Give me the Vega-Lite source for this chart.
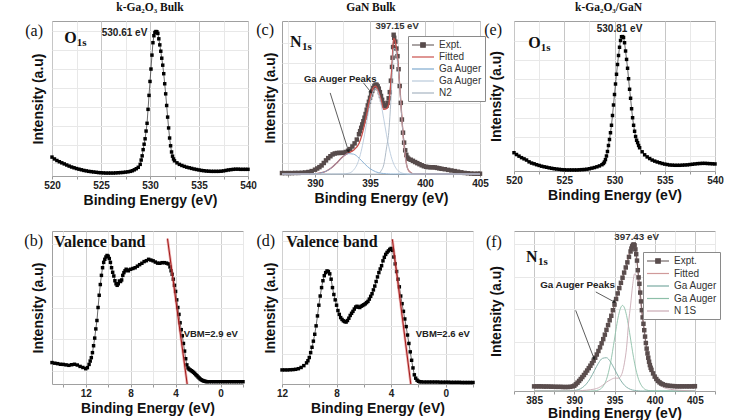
{
"$schema": "https://vega.github.io/schema/vega-lite/v6.json",
"padding": {"left": 23, "top": 1, "right": 4, "bottom": 2},
"columns": 3,
"spacing": {"row": 55, "column": 34},
"bounds": "flush",
"resolve": {"scale": {"color": "independent"}, "legend": {"color": "independent"}},
"config": {
 "view": {"stroke": "#a0a0a0", "strokeWidth": 1},
 "title": {"font": "Liberation Serif", "fontSize": 11.5, "fontWeight": "bold", "color": "#111", "anchor": "middle", "offset": 8},
 "axis": {"labelFont": "Liberation Sans", "labelFontSize": 10, "labelFontWeight": "bold", "labelColor": "#222", "titleFont": "Liberation Sans", "titleFontSize": 14, "titleFontWeight": "bold", "titleColor": "#111", "domain": false, "grid": true, "gridColor": "#e8e8e8", "gridWidth": 1, "tickColor": "#999", "tickSize": 3, "labelPadding": 1, "titlePadding": 3, "labelFlush": false, "labelOverlap": false},
 "axisY": {"labels": false, "ticks": false, "titlePadding": 7},
 "text": {"font": "Liberation Sans", "color": "#222"}
},
"datasets": {
 "ta": [{"s":"peak","t":"530.61 eV","e":527.4,"i":92.5},{"s":"big","t":"O","e":521.26,"i":85.8},{"s":"sub","t":"1s","e":521.26,"i":85.8},{"s":"lab","t":"(a)","e":519.08,"i":93.5}],
 "tc": [{"s":"peak","t":"397.15 eV","e":397.46,"i":96.7},{"s":"aug","t":"Ga Auger Peaks","e":392.29,"i":62.2},{"s":"big","t":"N","e":387.73,"i":83.2},{"s":"sub","t":"1s","e":387.73,"i":83.2},{"s":"lab","t":"(c)","e":386.27,"i":94.3}],
 "te": [{"s":"peak","t":"530.81 eV","e":530.5,"i":94.9},{"s":"big","t":"O","e":521.43,"i":81.8},{"s":"sub","t":"1s","e":521.43,"i":81.8},{"s":"lab","t":"(e)","e":518.81,"i":94}],
 "tb": [{"s":"vbm","t":"VBM=2.9 eV","e":3.28,"i":32.5},{"s":"vb","t":"Valence band","e":14.82,"i":89.7},{"s":"lab","t":"(b)","e":15.8,"i":93.5}],
 "td": [{"s":"vbm","t":"VBM=2.6 eV","e":2.2,"i":32.5},{"s":"vb","t":"Valence band","e":11.69,"i":89.5},{"s":"lab","t":"(d)","e":12.51,"i":93.5}],
 "tf": [{"s":"peak","t":"397.43 eV","e":397.75,"i":96.25},{"s":"aug","t":"Ga Auger Peaks","e":390.4,"i":66},{"s":"big","t":"N","e":384.0,"i":80.6},{"s":"sub","t":"1s","e":384.0,"i":80.6},{"s":"lab","t":"(f)","e":380.99,"i":93.1}],
 "bvbm": [{"e": 4.72, "i": 95}, {"e": 2.97, "i": 0}],
 "dvbm": [{"e": 3.91, "i": 94.6}, {"e": 2.56, "i": 0}],
 "carr": [{"a": 1, "p": 0, "e": 394.4, "i": 59.6}, {"a": 1, "p": 1, "e": 395.08, "i": 53.5}, {"a": 2, "p": 0, "e": 391.38, "i": 53}, {"a": 2, "p": 1, "e": 393.05, "i": 14.8}],
 "farr": [{"a": 1, "p": 0, "e": 392.67, "i": 61.9}, {"a": 1, "p": 1, "e": 395.0, "i": 55.6}, {"a": 2, "p": 0, "e": 390.17, "i": 50.4}, {"a": 2, "p": 1, "e": 392.46, "i": 20.2}],
 "a": [{"e":520.0,"i":12.2},{"e":520.25,"i":11.0},{"e":520.5,"i":10.0},{"e":520.75,"i":9.2},{"e":521.0,"i":8.5},{"e":521.25,"i":7.8},{"e":521.5,"i":7.1},{"e":521.75,"i":6.4},{"e":522.0,"i":5.8},{"e":522.25,"i":5.3},{"e":522.5,"i":4.8},{"e":522.75,"i":4.4},{"e":523.0,"i":4.0},{"e":523.25,"i":3.6},{"e":523.5,"i":3.3},{"e":523.75,"i":3.0},{"e":524.0,"i":2.8},{"e":524.25,"i":2.6},{"e":524.5,"i":2.4},{"e":524.75,"i":2.2},{"e":525.0,"i":2.1},{"e":525.25,"i":2.0},{"e":525.5,"i":1.9},{"e":525.75,"i":1.9},{"e":526.0,"i":1.9},{"e":526.25,"i":1.9},{"e":526.5,"i":2.0},{"e":526.75,"i":2.1},{"e":527.0,"i":2.2},{"e":527.25,"i":2.3},{"e":527.5,"i":2.5},{"e":527.75,"i":2.7},{"e":528.0,"i":3.0},{"e":528.2,"i":3.4},{"e":528.4,"i":4.0},{"e":528.6,"i":4.7},{"e":528.8,"i":5.6},{"e":529.0,"i":7.5},{"e":529.1,"i":10.3},{"e":529.2,"i":13.0},{"e":529.3,"i":17.0},{"e":529.4,"i":20.5},{"e":529.5,"i":24.0},{"e":529.6,"i":29.0},{"e":529.7,"i":34.0},{"e":529.8,"i":43.0},{"e":529.9,"i":52.0},{"e":530.0,"i":61.0},{"e":530.1,"i":69.0},{"e":530.2,"i":78.0},{"e":530.3,"i":86.0},{"e":530.4,"i":90.5},{"e":530.5,"i":92.6},{"e":530.6,"i":93.2},{"e":530.7,"i":93.1},{"e":530.8,"i":92.0},{"e":530.9,"i":88.5},{"e":531.0,"i":84.6},{"e":531.1,"i":80.5},{"e":531.2,"i":76.0},{"e":531.3,"i":71.5},{"e":531.4,"i":66.0},{"e":531.5,"i":59.5},{"e":531.6,"i":53.0},{"e":531.7,"i":45.5},{"e":531.8,"i":38.0},{"e":531.9,"i":31.0},{"e":532.0,"i":24.5},{"e":532.1,"i":19.5},{"e":532.2,"i":15.5},{"e":532.3,"i":12.8},{"e":532.4,"i":11.0},{"e":532.5,"i":9.8},{"e":532.75,"i":8.5},{"e":533.0,"i":7.5},{"e":533.25,"i":6.8},{"e":533.5,"i":6.2},{"e":533.75,"i":5.7},{"e":534.0,"i":5.3},{"e":534.25,"i":4.9},{"e":534.5,"i":4.5},{"e":534.75,"i":4.2},{"e":535.0,"i":3.9},{"e":535.25,"i":3.6},{"e":535.5,"i":3.4},{"e":535.75,"i":3.2},{"e":536.0,"i":3.1},{"e":536.25,"i":3.0},{"e":536.5,"i":3.0},{"e":536.75,"i":3.0},{"e":537.0,"i":3.0},{"e":537.25,"i":3.1},{"e":537.5,"i":3.3},{"e":537.75,"i":3.6},{"e":538.0,"i":3.9},{"e":538.25,"i":4.1},{"e":538.5,"i":4.3},{"e":538.75,"i":4.4},{"e":539.0,"i":4.4},{"e":539.25,"i":4.3},{"e":539.5,"i":4.3},{"e":539.75,"i":4.3},{"e":540.0,"i":4.3}],
 "e": [{"e":520.0,"i":12.2},{"e":520.25,"i":11.0},{"e":520.5,"i":9.9},{"e":520.75,"i":8.9},{"e":521.0,"i":8.1},{"e":521.25,"i":7.3},{"e":521.5,"i":6.1},{"e":521.75,"i":5.3},{"e":522.0,"i":4.8},{"e":522.25,"i":4.2},{"e":522.5,"i":3.7},{"e":522.75,"i":3.2},{"e":523.0,"i":2.8},{"e":523.25,"i":2.5},{"e":523.5,"i":2.1},{"e":523.75,"i":1.8},{"e":524.0,"i":1.5},{"e":524.25,"i":1.3},{"e":524.5,"i":1.1},{"e":524.75,"i":0.9},{"e":525.0,"i":0.8},{"e":525.25,"i":0.7},{"e":525.5,"i":0.7},{"e":525.75,"i":0.7},{"e":526.0,"i":0.7},{"e":526.25,"i":0.7},{"e":526.5,"i":0.8},{"e":526.75,"i":0.9},{"e":527.0,"i":1.0},{"e":527.25,"i":1.2},{"e":527.5,"i":1.5},{"e":527.75,"i":1.9},{"e":528.0,"i":2.3},{"e":528.25,"i":2.8},{"e":528.5,"i":3.4},{"e":528.75,"i":4.2},{"e":528.9,"i":5.0},{"e":529.0,"i":6.0},{"e":529.1,"i":7.6},{"e":529.2,"i":10.0},{"e":529.3,"i":13.0},{"e":529.4,"i":17.0},{"e":529.5,"i":21.0},{"e":529.6,"i":25.5},{"e":529.7,"i":30.5},{"e":529.8,"i":37.0},{"e":529.9,"i":44.0},{"e":530.0,"i":51.0},{"e":530.1,"i":58.0},{"e":530.2,"i":64.5},{"e":530.3,"i":71.0},{"e":530.4,"i":77.0},{"e":530.5,"i":82.5},{"e":530.6,"i":87.0},{"e":530.7,"i":89.5},{"e":530.8,"i":89.6},{"e":530.9,"i":89.0},{"e":531.0,"i":85.5},{"e":531.1,"i":80.0},{"e":531.2,"i":74.4},{"e":531.3,"i":68.5},{"e":531.4,"i":61.5},{"e":531.5,"i":54.5},{"e":531.6,"i":48.5},{"e":531.7,"i":41.5},{"e":531.8,"i":35.5},{"e":531.9,"i":30.5},{"e":532.0,"i":26.5},{"e":532.1,"i":23.0},{"e":532.2,"i":20.5},{"e":532.3,"i":18.9},{"e":532.4,"i":17.0},{"e":532.5,"i":15.5},{"e":532.75,"i":12.8},{"e":533.0,"i":10.8},{"e":533.25,"i":9.4},{"e":533.5,"i":8.3},{"e":533.75,"i":7.3},{"e":534.0,"i":6.6},{"e":534.25,"i":6.0},{"e":534.5,"i":5.5},{"e":534.75,"i":5.0},{"e":535.0,"i":4.6},{"e":535.25,"i":4.3},{"e":535.5,"i":4.0},{"e":535.75,"i":3.9},{"e":536.0,"i":3.8},{"e":536.25,"i":3.8},{"e":536.5,"i":3.8},{"e":536.75,"i":3.9},{"e":537.0,"i":4.0},{"e":537.25,"i":4.1},{"e":537.5,"i":4.3},{"e":537.75,"i":4.5},{"e":538.0,"i":4.7},{"e":538.25,"i":4.9},{"e":538.5,"i":5.0},{"e":538.75,"i":5.1},{"e":539.0,"i":5.1},{"e":539.25,"i":5.0},{"e":539.5,"i":4.9},{"e":539.75,"i":4.8},{"e":540.0,"i":4.7}],
 "b": [{"e":15.0,"i":14.0},{"e":14.75,"i":13.6},{"e":14.5,"i":13.3},{"e":14.25,"i":12.9},{"e":14.0,"i":12.8},{"e":13.75,"i":12.5},{"e":13.5,"i":12.2},{"e":13.25,"i":12.6},{"e":13.0,"i":12.9},{"e":12.75,"i":12.4},{"e":12.5,"i":11.5},{"e":12.25,"i":10.8},{"e":12.0,"i":10.0},{"e":11.85,"i":10.7},{"e":11.7,"i":12.8},{"e":11.6,"i":15.0},{"e":11.5,"i":17.2},{"e":11.4,"i":20.5},{"e":11.3,"i":25.0},{"e":11.2,"i":30.0},{"e":11.1,"i":36.0},{"e":11.0,"i":41.5},{"e":10.9,"i":50.0},{"e":10.8,"i":58.0},{"e":10.7,"i":65.0},{"e":10.6,"i":71.0},{"e":10.5,"i":76.0},{"e":10.4,"i":79.5},{"e":10.3,"i":81.5},{"e":10.2,"i":83.0},{"e":10.1,"i":84.0},{"e":10.0,"i":83.5},{"e":9.9,"i":82.0},{"e":9.8,"i":79.5},{"e":9.7,"i":76.0},{"e":9.6,"i":73.0},{"e":9.5,"i":70.6},{"e":9.4,"i":67.5},{"e":9.3,"i":65.5},{"e":9.2,"i":64.5},{"e":9.1,"i":65.5},{"e":9.0,"i":67.3},{"e":8.9,"i":67.0},{"e":8.8,"i":68.0},{"e":8.7,"i":71.0},{"e":8.6,"i":72.8},{"e":8.5,"i":74.0},{"e":8.4,"i":75.0},{"e":8.3,"i":74.5},{"e":8.2,"i":74.0},{"e":8.0,"i":75.0},{"e":7.8,"i":75.5},{"e":7.6,"i":76.0},{"e":7.4,"i":77.0},{"e":7.2,"i":78.0},{"e":7.0,"i":78.9},{"e":6.8,"i":80.0},{"e":6.6,"i":80.6},{"e":6.4,"i":81.5},{"e":6.2,"i":81.0},{"e":6.0,"i":80.5},{"e":5.8,"i":79.7},{"e":5.6,"i":79.0},{"e":5.4,"i":78.9},{"e":5.2,"i":79.3},{"e":5.0,"i":79.3},{"e":4.8,"i":79.0},{"e":4.65,"i":78.5},{"e":4.5,"i":76.5},{"e":4.4,"i":74.0},{"e":4.3,"i":71.7},{"e":4.2,"i":68.5},{"e":4.1,"i":64.5},{"e":4.0,"i":60.5},{"e":3.9,"i":55.0},{"e":3.8,"i":50.0},{"e":3.7,"i":45.5},{"e":3.6,"i":40.0},{"e":3.5,"i":35.5},{"e":3.4,"i":31.5},{"e":3.3,"i":26.5},{"e":3.2,"i":21.5},{"e":3.1,"i":16.5},{"e":3.0,"i":12.5},{"e":2.9,"i":10.5},{"e":2.8,"i":9.7},{"e":2.7,"i":9.2},{"e":2.6,"i":8.7},{"e":2.5,"i":8.2},{"e":2.4,"i":7.6},{"e":2.3,"i":6.9},{"e":2.2,"i":6.1},{"e":2.1,"i":5.4},{"e":2.0,"i":4.6},{"e":1.9,"i":3.9},{"e":1.8,"i":3.2},{"e":1.7,"i":2.7},{"e":1.6,"i":2.3},{"e":1.5,"i":2.0},{"e":1.4,"i":1.8},{"e":1.3,"i":1.6},{"e":1.2,"i":1.5},{"e":1.0,"i":1.5},{"e":0.8,"i":1.5},{"e":0.6,"i":1.5},{"e":0.4,"i":1.5},{"e":0.2,"i":1.5},{"e":0.0,"i":1.5},{"e":-0.2,"i":1.5},{"e":-0.4,"i":1.5},{"e":-0.6,"i":1.5},{"e":-0.8,"i":1.5},{"e":-1.0,"i":1.5},{"e":-1.2,"i":1.5},{"e":-1.4,"i":1.5},{"e":-1.6,"i":1.5},{"e":-1.8,"i":1.5},{"e":-2.0,"i":1.5}],
 "d": [{"e":12.0,"i":9.2},{"e":11.8,"i":9.2},{"e":11.6,"i":9.2},{"e":11.4,"i":9.3},{"e":11.2,"i":9.4},{"e":11.0,"i":9.6},{"e":10.8,"i":10.0},{"e":10.6,"i":10.8},{"e":10.4,"i":12.0},{"e":10.2,"i":13.8},{"e":10.1,"i":15.2},{"e":10.0,"i":17.3},{"e":9.9,"i":20.5},{"e":9.8,"i":24.0},{"e":9.7,"i":28.0},{"e":9.6,"i":32.5},{"e":9.5,"i":38.0},{"e":9.4,"i":44.5},{"e":9.3,"i":51.5},{"e":9.2,"i":57.5},{"e":9.1,"i":63.0},{"e":9.0,"i":67.5},{"e":8.9,"i":70.8},{"e":8.8,"i":72.8},{"e":8.7,"i":73.9},{"e":8.6,"i":73.5},{"e":8.5,"i":72.0},{"e":8.4,"i":68.5},{"e":8.3,"i":63.0},{"e":8.2,"i":58.5},{"e":8.1,"i":55.0},{"e":8.0,"i":51.5},{"e":7.9,"i":48.0},{"e":7.8,"i":45.5},{"e":7.7,"i":43.4},{"e":7.6,"i":42.2},{"e":7.5,"i":41.3},{"e":7.4,"i":40.8},{"e":7.3,"i":40.5},{"e":7.2,"i":41.5},{"e":7.1,"i":43.0},{"e":7.0,"i":44.8},{"e":6.9,"i":46.2},{"e":6.8,"i":47.5},{"e":6.7,"i":49.0},{"e":6.6,"i":50.3},{"e":6.5,"i":50.8},{"e":6.4,"i":50.2},{"e":6.3,"i":50.0},{"e":6.2,"i":50.8},{"e":6.1,"i":51.3},{"e":6.0,"i":51.8},{"e":5.9,"i":52.4},{"e":5.8,"i":53.2},{"e":5.7,"i":54.0},{"e":5.6,"i":55.5},{"e":5.5,"i":57.3},{"e":5.4,"i":59.0},{"e":5.3,"i":61.5},{"e":5.2,"i":64.0},{"e":5.1,"i":67.0},{"e":5.0,"i":70.0},{"e":4.9,"i":72.8},{"e":4.8,"i":75.2},{"e":4.7,"i":77.3},{"e":4.6,"i":80.5},{"e":4.5,"i":82.8},{"e":4.4,"i":84.7},{"e":4.3,"i":86.0},{"e":4.2,"i":87.0},{"e":4.1,"i":88.0},{"e":4.0,"i":88.6},{"e":3.9,"i":87.4},{"e":3.8,"i":83.0},{"e":3.7,"i":78.5},{"e":3.6,"i":73.5},{"e":3.5,"i":68.5},{"e":3.4,"i":63.5},{"e":3.3,"i":57.5},{"e":3.2,"i":52.5},{"e":3.1,"i":47.5},{"e":3.0,"i":42.5},{"e":2.9,"i":37.5},{"e":2.8,"i":32.0},{"e":2.7,"i":26.5},{"e":2.6,"i":21.0},{"e":2.5,"i":15.5},{"e":2.4,"i":10.5},{"e":2.3,"i":6.0},{"e":2.2,"i":3.8},{"e":2.1,"i":2.5},{"e":2.0,"i":1.8},{"e":1.9,"i":1.5},{"e":1.8,"i":1.4},{"e":1.6,"i":1.3},{"e":1.4,"i":1.3},{"e":1.2,"i":1.3},{"e":1.0,"i":1.3},{"e":0.8,"i":1.3},{"e":0.6,"i":1.3},{"e":0.4,"i":1.2},{"e":0.2,"i":1.2},{"e":0.0,"i":1.2},{"e":-0.2,"i":1.2},{"e":-0.4,"i":1.1},{"e":-0.6,"i":1.1},{"e":-0.8,"i":1.1},{"e":-1.0,"i":1.1},{"e":-1.2,"i":1.0},{"e":-1.4,"i":1.0},{"e":-1.6,"i":1.0},{"e":-1.8,"i":1.0},{"e":-2.0,"i":1.0}],
 "c": [{"e":387.0,"i":0.6},{"e":387.3,"i":0.6},{"e":387.6,"i":0.6},{"e":387.9,"i":0.6},{"e":388.2,"i":0.7},{"e":388.5,"i":0.7},{"e":388.8,"i":0.8},{"e":389.1,"i":1.0},{"e":389.4,"i":1.3},{"e":389.7,"i":1.9},{"e":390.0,"i":2.8},{"e":390.2,"i":3.6},{"e":390.4,"i":4.5},{"e":390.6,"i":5.6},{"e":390.8,"i":7.2},{"e":391.0,"i":8.9},{"e":391.2,"i":10.4},{"e":391.4,"i":11.6},{"e":391.6,"i":12.8},{"e":391.8,"i":13.4},{"e":392.0,"i":13.7},{"e":392.2,"i":13.8},{"e":392.4,"i":13.8},{"e":392.6,"i":13.9},{"e":392.8,"i":14.4},{"e":393.0,"i":15.2},{"e":393.2,"i":16.3},{"e":393.4,"i":18.0},{"e":393.6,"i":20.0},{"e":393.8,"i":22.5},{"e":394.0,"i":26.0},{"e":394.1,"i":28.0},{"e":394.2,"i":30.2},{"e":394.3,"i":32.4},{"e":394.4,"i":34.5},{"e":394.5,"i":36.8},{"e":394.6,"i":39.2},{"e":394.7,"i":42.0},{"e":394.8,"i":44.8},{"e":394.9,"i":47.2},{"e":395.0,"i":49.8},{"e":395.1,"i":52.0},{"e":395.2,"i":54.3},{"e":395.3,"i":56.2},{"e":395.4,"i":57.6},{"e":395.5,"i":58.4},{"e":395.6,"i":58.3},{"e":395.7,"i":57.3},{"e":395.8,"i":55.8},{"e":395.9,"i":53.5},{"e":396.0,"i":51.0},{"e":396.1,"i":48.5},{"e":396.2,"i":46.2},{"e":396.3,"i":44.8},{"e":396.4,"i":44.2},{"e":396.5,"i":44.6},{"e":396.6,"i":46.5},{"e":396.7,"i":49.5},{"e":396.8,"i":53.5},{"e":396.9,"i":61.0},{"e":397.0,"i":70.0},{"e":397.05,"i":76.0},{"e":397.1,"i":83.0},{"e":397.15,"i":91.0},{"e":397.2,"i":89.0},{"e":397.3,"i":86.5},{"e":397.4,"i":82.0},{"e":397.5,"i":77.0},{"e":397.6,"i":68.5},{"e":397.7,"i":57.5},{"e":397.8,"i":46.5},{"e":397.9,"i":35.6},{"e":398.0,"i":27.0},{"e":398.1,"i":20.5},{"e":398.2,"i":15.5},{"e":398.3,"i":12.5},{"e":398.4,"i":10.7},{"e":398.5,"i":9.9},{"e":398.7,"i":9.3},{"e":398.9,"i":8.6},{"e":399.1,"i":7.8},{"e":399.3,"i":7.1},{"e":399.5,"i":6.4},{"e":399.7,"i":5.7},{"e":399.9,"i":5.1},{"e":400.1,"i":4.7},{"e":400.3,"i":4.5},{"e":400.5,"i":4.4},{"e":400.7,"i":4.4},{"e":400.9,"i":4.3},{"e":401.1,"i":4.0},{"e":401.3,"i":3.7},{"e":401.5,"i":3.4},{"e":401.8,"i":3.1},{"e":402.1,"i":2.7},{"e":402.4,"i":2.3},{"e":402.7,"i":1.9},{"e":403.0,"i":1.5},{"e":403.3,"i":1.1},{"e":403.6,"i":0.7},{"e":403.9,"i":0.5},{"e":404.2,"i":0.3},{"e":404.5,"i":0.2},{"e":404.8,"i":0.2},{"e":405.0,"i":0.2}],
 "cfit": [{"e":387,"F":0,"G1":0,"G2":0,"N":0},{"e":389,"F":0,"G1":0,"G2":0,"N":0},{"e":389.5,"F":0.05,"G1":0.05,"G2":0,"N":0},{"e":390,"F":0.2,"G1":0.2,"G2":0,"N":0},{"e":390.5,"F":0.7,"G1":0.7,"G2":0,"N":0},{"e":391,"F":1.8,"G1":1.8,"G2":0,"N":0},{"e":391.5,"F":4.1,"G1":4.1,"G2":0,"N":0},{"e":392,"F":7.4,"G1":7.4,"G2":0,"N":0},{"e":392.5,"F":11.05,"G1":11,"G2":0.05,"N":0},{"e":393,"F":13.7,"G1":13.3,"G2":0.4,"N":0},{"e":393.5,"F":15.5,"G1":13,"G2":2.5,"N":0},{"e":394,"F":20,"G1":10.4,"G2":9.6,"N":0},{"e":394.25,"F":25.1,"G1":8.6,"G2":16.5,"N":0},{"e":394.5,"F":32.3,"G1":6.7,"G2":25.6,"N":0},{"e":394.75,"F":41,"G1":5,"G2":36,"N":0},{"e":395,"F":49.5,"G1":3.5,"G2":46,"N":0},{"e":395.25,"F":55.7,"G1":2.4,"G2":53.3,"N":0},{"e":395.5,"F":57.5,"G1":1.5,"G2":56,"N":0},{"e":395.75,"F":54.2,"G1":0.9,"G2":53.3,"N":0},{"e":396,"F":48.5,"G1":0.5,"G2":46,"N":2},{"e":396.25,"F":42.3,"G1":0.3,"G2":36,"N":6},{"e":396.5,"F":42.75,"G1":0.15,"G2":25.6,"N":17},{"e":396.7,"F":45.3,"G1":0.1,"G2":18.2,"N":27},{"e":396.85,"F":55.5,"G1":0,"G2":13.5,"N":42},{"e":397,"F":71.6,"G1":0,"G2":9.6,"N":62},{"e":397.15,"F":88.7,"G1":0,"G2":6.7,"N":82},{"e":397.3,"F":86.5,"G1":0,"G2":4.5,"N":82},{"e":397.45,"F":78.9,"G1":0,"G2":2.9,"N":76},{"e":397.6,"F":67.8,"G1":0,"G2":1.8,"N":66},{"e":397.75,"F":53.1,"G1":0,"G2":1.1,"N":52},{"e":397.9,"F":36.6,"G1":0,"G2":0.6,"N":36},{"e":398,"F":26.4,"G1":0,"G2":0.4,"N":26},{"e":398.1,"F":18.3,"G1":0,"G2":0.3,"N":18},{"e":398.25,"F":9.2,"G1":0,"G2":0.2,"N":9},{"e":398.4,"F":4,"G1":0,"G2":0,"N":4},{"e":398.6,"F":1.5,"G1":0,"G2":0,"N":1.5},{"e":398.8,"F":0.5,"G1":0,"G2":0,"N":0.5},{"e":399,"F":0,"G1":0,"G2":0,"N":0},{"e":402,"F":0,"G1":0,"G2":0,"N":0},{"e":405,"F":0,"G1":0,"G2":0,"N":0}],
 "f": [{"e":385.0,"i":2.9},{"e":385.3,"i":2.9},{"e":385.6,"i":2.9},{"e":385.9,"i":2.9},{"e":386.2,"i":2.8},{"e":386.5,"i":2.8},{"e":386.8,"i":2.8},{"e":387.1,"i":2.7},{"e":387.4,"i":2.7},{"e":387.7,"i":2.6},{"e":388.0,"i":2.6},{"e":388.3,"i":2.6},{"e":388.6,"i":2.5},{"e":388.9,"i":2.5},{"e":389.2,"i":2.5},{"e":389.5,"i":2.6},{"e":389.8,"i":2.9},{"e":390.0,"i":3.3},{"e":390.2,"i":4.2},{"e":390.4,"i":5.2},{"e":390.6,"i":6.3},{"e":390.8,"i":7.5},{"e":391.0,"i":8.7},{"e":391.2,"i":10.0},{"e":391.4,"i":11.4},{"e":391.6,"i":12.8},{"e":391.8,"i":14.3},{"e":392.0,"i":15.8},{"e":392.2,"i":17.4},{"e":392.4,"i":19.0},{"e":392.6,"i":20.8},{"e":392.8,"i":22.8},{"e":393.0,"i":25.0},{"e":393.2,"i":27.3},{"e":393.4,"i":29.8},{"e":393.6,"i":32.4},{"e":393.8,"i":35.2},{"e":394.0,"i":38.2},{"e":394.2,"i":41.2},{"e":394.4,"i":44.2},{"e":394.6,"i":47.0},{"e":394.8,"i":50.5},{"e":395.0,"i":54.0},{"e":395.2,"i":57.5},{"e":395.4,"i":61.0},{"e":395.6,"i":64.3},{"e":395.8,"i":67.6},{"e":396.0,"i":70.8},{"e":396.2,"i":74.0},{"e":396.4,"i":77.2},{"e":396.6,"i":80.4},{"e":396.8,"i":83.8},{"e":397.0,"i":87.2},{"e":397.1,"i":89.0},{"e":397.2,"i":90.4},{"e":397.3,"i":91.3},{"e":397.4,"i":91.6},{"e":397.5,"i":91.0},{"e":397.6,"i":88.5},{"e":397.7,"i":85.5},{"e":397.8,"i":81.5},{"e":397.9,"i":75.5},{"e":398.0,"i":71.0},{"e":398.1,"i":67.0},{"e":398.2,"i":61.5},{"e":398.3,"i":56.0},{"e":398.4,"i":50.5},{"e":398.5,"i":46.0},{"e":398.6,"i":42.0},{"e":398.7,"i":38.0},{"e":398.8,"i":34.0},{"e":398.9,"i":30.0},{"e":399.0,"i":26.5},{"e":399.1,"i":23.5},{"e":399.2,"i":20.8},{"e":399.3,"i":18.3},{"e":399.4,"i":16.2},{"e":399.5,"i":14.5},{"e":399.6,"i":13.2},{"e":399.8,"i":11.0},{"e":400.0,"i":9.0},{"e":400.2,"i":7.5},{"e":400.4,"i":6.3},{"e":400.6,"i":5.4},{"e":400.8,"i":4.7},{"e":401.0,"i":4.2},{"e":401.3,"i":3.7},{"e":401.6,"i":3.4},{"e":401.9,"i":3.2},{"e":402.2,"i":3.1},{"e":402.5,"i":3.0},{"e":402.8,"i":2.9},{"e":403.1,"i":2.9},{"e":403.4,"i":2.9},{"e":403.7,"i":2.9},{"e":404.0,"i":2.9},{"e":404.3,"i":2.9},{"e":404.6,"i":2.9},{"e":404.9,"i":3.0},{"e":405.0,"i":3.0}],
 "ffit": [{"e":385,"F":2.9,"G1":0,"G2":0,"N":0},{"e":387,"F":2.7,"G1":0,"G2":0,"N":0},{"e":389,"F":2.6,"G1":0,"G2":0,"N":0},{"e":389.5,"F":2.6,"G1":0.1,"G2":0,"N":0},{"e":390,"F":3.3,"G1":0.3,"G2":0,"N":0},{"e":390.5,"F":5.7,"G1":0.8,"G2":0,"N":0},{"e":391,"F":8.7,"G1":2.1,"G2":0,"N":0.3},{"e":391.5,"F":12.1,"G1":4.4,"G2":0,"N":0.5},{"e":392,"F":15.8,"G1":8.0,"G2":0,"N":0.8},{"e":392.5,"F":19.9,"G1":12.7,"G2":0.1,"N":1.2},{"e":393,"F":25,"G1":17.4,"G2":0.6,"N":2},{"e":393.5,"F":31.1,"G1":20.4,"G2":2.4,"N":3.5},{"e":394,"F":38.2,"G1":20.8,"G2":7.2,"N":5.5},{"e":394.5,"F":45.6,"G1":18.2,"G2":17.4,"N":7},{"e":395,"F":54,"G1":13.7,"G2":32.5,"N":8},{"e":395.25,"F":58.4,"G1":11.3,"G2":40.4,"N":8},{"e":395.5,"F":62.6,"G1":8.9,"G2":47.2,"N":8},{"e":395.75,"F":66.8,"G1":6.8,"G2":51.8,"N":9},{"e":396,"F":70.8,"G1":5.0,"G2":53.5,"N":12},{"e":396.25,"F":74.8,"G1":3.5,"G2":51.8,"N":18},{"e":396.5,"F":78.8,"G1":2.4,"G2":47.2,"N":27},{"e":396.75,"F":84.6,"G1":1.6,"G2":40.4,"N":42.5},{"e":397,"F":87.2,"G1":1.0,"G2":32.5,"N":53.7},{"e":397.25,"F":90.9,"G1":0.6,"G2":24.5,"N":65.8},{"e":397.5,"F":91,"G1":0.4,"G2":17.4,"N":73.2},{"e":397.75,"F":83.5,"G1":0.2,"G2":11.6,"N":71.7},{"e":398,"F":71,"G1":0.1,"G2":7.2,"N":63.7},{"e":398.25,"F":58.8,"G1":0,"G2":4.3,"N":54.5},{"e":398.5,"F":46,"G1":0,"G2":2.4,"N":43.6},{"e":398.75,"F":36,"G1":0,"G2":1.2,"N":34.8},{"e":399,"F":26.5,"G1":0,"G2":0.6,"N":25.9},{"e":399.25,"F":19.5,"G1":0,"G2":0.3,"N":19.2},{"e":399.5,"F":14.5,"G1":0,"G2":0.1,"N":14.4},{"e":400,"F":9,"G1":0,"G2":0,"N":8},{"e":400.5,"F":5.8,"G1":0,"G2":0,"N":4.5},{"e":401,"F":4.2,"G1":0,"G2":0,"N":2.5},{"e":402,"F":3.1,"G1":0,"G2":0,"N":1},{"e":403,"F":2.9,"G1":0,"G2":0,"N":0.5},{"e":405,"F":3.0,"G1":0,"G2":0,"N":0}]
},
"concat": [
 {
  "width": 196, "height": 155,
  "title": {"text": "k-Ga₂O₃ Bulk"},
  "data": {"name": "a"},
  "encoding": {
   "x": {"field": "e", "type": "quantitative", "scale": {"domain": [520, 540], "nice": false, "zero": false}, "axis": {"title": "Binding Energy (eV)", "values": [520,522.5,525,527.5,530,532.5,535,537.5,540], "labelExpr": "datum.value % 5 === 0 ? datum.label : ''", "gridColor": {"condition": {"test": "datum.value % 5 === 0", "value": "#c6c6c6"}, "value": "#e8e8e8"}}},
   "y": {"field": "i", "type": "quantitative", "scale": {"domain": [0, 100], "nice": false, "zero": false}, "axis": {"title": "Intensity (a.u)", "values": [8.1,20.3,32.5,44.7,56.9,69.1,81.3,93.5]}}
  },
  "layer": [
   {"mark": {"type": "line", "color": "#444", "strokeWidth": 0.8}},
   {"mark": {"type": "point", "shape": "square", "filled": true, "size": 12, "color": "#000", "opacity": 1}},
   {"data": {"name": "ta"}, "transform": [{"filter": "datum.s === 'peak'"}], "mark": {"type": "text", "fontSize": 10, "fontWeight": "bold"}, "encoding": {"text": {"field": "t"}}},
   {"data": {"name": "ta"}, "transform": [{"filter": "datum.s === 'big'"}], "mark": {"type": "text", "font": "Liberation Serif", "fontSize": 16, "fontWeight": "bold", "align": "left", "baseline": "alphabetic", "color": "#111"}, "encoding": {"text": {"field": "t"}}},
   {"data": {"name": "ta"}, "transform": [{"filter": "datum.s === 'sub'"}], "mark": {"type": "text", "font": "Liberation Serif", "fontSize": 11, "fontWeight": "bold", "align": "left", "baseline": "alphabetic", "dx": 12.5, "dy": 3, "color": "#111"}, "encoding": {"text": {"field": "t"}}},
   {"data": {"name": "ta"}, "transform": [{"filter": "datum.s === 'lab'"}], "mark": {"type": "text", "font": "Liberation Serif", "fontSize": 16, "align": "right", "baseline": "middle", "color": "#111"}, "encoding": {"text": {"field": "t"}}}
  ]
 },
 {
  "width": 198, "height": 153,
  "title": {"text": "GaN Bulk", "dx": -10},
  "data": {"name": "c"},
  "encoding": {
   "x": {"field": "e", "type": "quantitative", "scale": {"domain": [387, 405], "nice": false, "zero": false}, "axis": {"title": "Binding Energy (eV)", "values": [387.5,390,392.5,395,397.5,400,402.5,405], "labelExpr": "datum.value % 5 === 0 ? datum.label : ''", "gridColor": {"condition": {"test": "datum.value % 5 === 0", "value": "#c6c6c6"}, "value": "#e8e8e8"}}},
   "y": {"field": "i", "type": "quantitative", "scale": {"domain": [0, 100], "nice": false, "zero": false}, "axis": {"title": "Intensity (a.u)", "titlePadding": 5, "values": [7.2,20.3,33.4,46.5,59.6,72.7,85.8]}}
  },
  "layer": [
   {"mark": {"type": "line", "color": "#6a5f5f", "strokeWidth": 0.8}},
   {"mark": {"type": "point", "shape": "square", "filled": true, "size": 20, "color": "#574b4b", "opacity": 1}},
   {"data": {"name": "cfit"}, "transform": [{"fold": ["F", "G1", "G2", "N"], "as": ["k", "i"]}],
    "mark": {"type": "line", "interpolate": "monotone"},
    "encoding": {
     "color": {"field": "k", "type": "nominal", "scale": {"domain": ["X", "F", "G1", "G2", "N"], "range": ["#574b4b", "#c9504c", "#7fa9cf", "#b9cadb", "#a7b4c2"]},
      "legend": {"title": null, "orient": "none", "legendX": 126, "legendY": 15, "fillColor": "#ffffff", "strokeColor": "#8a8a8a", "padding": 3, "rowPadding": 1, "symbolSize": 100, "symbolOffset": 6, "labelOffset": 10, "labelFont": "Liberation Sans", "labelFontSize": 10, "labelColor": "#333",
       "labelExpr": "datum.label === 'X' ? 'Expt.' : datum.label === 'F' ? 'Fitted' : datum.label === 'N' ? 'N2' : 'Ga Auger'",
       "encode": {"symbols": {"update": {
        "shape": {"signal": "datum.value === 'X' ? 'M-2.2,0H2.2M-0.45,-0.45H0.45V0.45H-0.45Z' : 'M-2.2,0H2.2'"},
        "stroke": {"signal": "datum.value === 'X' ? '#574b4b' : datum.value === 'F' ? '#c9504c' : datum.value === 'G1' ? '#7fa9cf' : datum.value === 'G2' ? '#b9cadb' : '#a7b4c2'"},
        "fill": {"signal": "datum.value === 'X' ? '#574b4b' : 'transparent'"},
        "strokeWidth": {"value": 1.2}, "opacity": {"value": 1}}}}}},
     "strokeWidth": {"condition": {"test": "datum.k === 'F'", "value": 1.3}, "value": 0.9}}},
   {"data": {"name": "carr"}, "mark": {"type": "line", "color": "#333", "strokeWidth": 0.8}, "encoding": {"detail": {"field": "a", "type": "nominal"}}},
   {"data": {"name": "carr"}, "transform": [{"filter": "datum.p === 1 && datum.a === 1"}], "mark": {"type": "point", "shape": "triangle-up", "filled": true, "size": 16, "angle": 142, "color": "#222", "opacity": 1}},
   {"data": {"name": "carr"}, "transform": [{"filter": "datum.p === 1 && datum.a === 2"}], "mark": {"type": "point", "shape": "triangle-up", "filled": true, "size": 16, "angle": 162, "color": "#222", "opacity": 1}},
   {"data": {"name": "tc"}, "transform": [{"filter": "datum.s === 'peak'"}], "mark": {"type": "text", "fontSize": 9.5, "fontWeight": "bold", "color": "#333"}, "encoding": {"text": {"field": "t"}}},
   {"data": {"name": "tc"}, "transform": [{"filter": "datum.s === 'aug'"}], "mark": {"type": "text", "fontSize": 9.5, "fontWeight": "bold"}, "encoding": {"text": {"field": "t"}}},
   {"data": {"name": "tc"}, "transform": [{"filter": "datum.s === 'big'"}], "mark": {"type": "text", "font": "Liberation Serif", "fontSize": 16, "fontWeight": "bold", "align": "left", "baseline": "alphabetic", "color": "#111"}, "encoding": {"text": {"field": "t"}}},
   {"data": {"name": "tc"}, "transform": [{"filter": "datum.s === 'sub'"}], "mark": {"type": "text", "font": "Liberation Serif", "fontSize": 11, "fontWeight": "bold", "align": "left", "baseline": "alphabetic", "dx": 12, "dy": 3, "color": "#111"}, "encoding": {"text": {"field": "t"}}},
   {"data": {"name": "tc"}, "transform": [{"filter": "datum.s === 'lab'"}], "mark": {"type": "text", "font": "Liberation Serif", "fontSize": 16, "align": "right", "baseline": "middle", "color": "#111"}, "encoding": {"text": {"field": "t"}}}
  ]
 },
 {
  "width": 201, "height": 150,
  "title": {"text": "k-Ga₂O₃/GaN", "dx": -6},
  "data": {"name": "e"},
  "encoding": {
   "x": {"field": "e", "type": "quantitative", "scale": {"domain": [520, 540], "nice": false, "zero": false}, "axis": {"title": "Binding Energy (eV)", "values": [520,522.5,525,527.5,530,532.5,535,537.5,540], "labelExpr": "datum.value % 5 === 0 ? datum.label : ''", "gridColor": {"condition": {"test": "datum.value % 5 === 0", "value": "#c6c6c6"}, "value": "#e8e8e8"}}},
   "y": {"field": "i", "type": "quantitative", "scale": {"domain": [0, 100], "nice": false, "zero": false}, "axis": {"title": "Intensity (a.u)", "titlePadding": 11, "values": [10,22.8,35.6,48.4,61.2,74,86.8]}}
  },
  "layer": [
   {"mark": {"type": "line", "color": "#444", "strokeWidth": 0.8}},
   {"mark": {"type": "point", "shape": "square", "filled": true, "size": 12, "color": "#000", "opacity": 1}},
   {"data": {"name": "te"}, "transform": [{"filter": "datum.s === 'peak'"}], "mark": {"type": "text", "fontSize": 10, "fontWeight": "bold"}, "encoding": {"text": {"field": "t"}}},
   {"data": {"name": "te"}, "transform": [{"filter": "datum.s === 'big'"}], "mark": {"type": "text", "font": "Liberation Serif", "fontSize": 16, "fontWeight": "bold", "align": "left", "baseline": "alphabetic", "color": "#111"}, "encoding": {"text": {"field": "t"}}},
   {"data": {"name": "te"}, "transform": [{"filter": "datum.s === 'sub'"}], "mark": {"type": "text", "font": "Liberation Serif", "fontSize": 11, "fontWeight": "bold", "align": "left", "baseline": "alphabetic", "dx": 12.5, "dy": 3, "color": "#111"}, "encoding": {"text": {"field": "t"}}},
   {"data": {"name": "te"}, "transform": [{"filter": "datum.s === 'lab'"}], "mark": {"type": "text", "font": "Liberation Serif", "fontSize": 16, "align": "right", "baseline": "middle", "color": "#111"}, "encoding": {"text": {"field": "t"}}}
  ]
 },
 {
  "width": 191, "height": 153,
  "data": {"name": "b"},
  "encoding": {
   "x": {"field": "e", "type": "quantitative", "scale": {"domain": [-2, 15], "reverse": true, "nice": false, "zero": false}, "axis": {"title": "Binding Energy (eV)", "values": [14,12,10,8,6,4,2,0,-2], "labelExpr": "datum.value % 4 === 0 ? datum.label : ''", "gridColor": {"condition": {"test": "datum.value % 4 === 0", "value": "#d0d0d0"}, "value": "#e8e8e8"}}},
   "y": {"field": "i", "type": "quantitative", "scale": {"domain": [0, 100], "nice": false, "zero": false}, "axis": {"title": "Intensity (a.u)", "values": [8.5,29.2,49.9,70.6,91.3]}}
  },
  "layer": [
   {"mark": {"type": "line", "color": "#444", "strokeWidth": 0.8}},
   {"mark": {"type": "point", "shape": "square", "filled": true, "size": 12, "color": "#000", "opacity": 1}},
   {"data": {"name": "bvbm"}, "mark": {"type": "line", "color": "#e07070", "strokeWidth": 2.6, "opacity": 0.6}},
   {"data": {"name": "bvbm"}, "mark": {"type": "line", "color": "#a01818", "strokeWidth": 1}},
   {"data": {"name": "tb"}, "transform": [{"filter": "datum.s === 'vbm'"}], "mark": {"type": "text", "fontSize": 9.5, "fontWeight": "bold", "align": "left", "baseline": "middle"}, "encoding": {"text": {"field": "t"}}},
   {"data": {"name": "tb"}, "transform": [{"filter": "datum.s === 'vb'"}], "mark": {"type": "text", "font": "Liberation Serif", "fontSize": 16, "fontWeight": "bold", "align": "left", "baseline": "alphabetic", "color": "#111"}, "encoding": {"text": {"field": "t"}}},
   {"data": {"name": "tb"}, "transform": [{"filter": "datum.s === 'lab'"}], "mark": {"type": "text", "font": "Liberation Serif", "fontSize": 16, "align": "right", "baseline": "middle", "color": "#111"}, "encoding": {"text": {"field": "t"}}}
  ]
 },
 {
  "width": 191, "height": 153,
  "data": {"name": "d"},
  "encoding": {
   "x": {"field": "e", "type": "quantitative", "scale": {"domain": [-2, 12], "reverse": true, "nice": false, "zero": false}, "axis": {"title": "Binding Energy (eV)", "values": [12,10,8,6,4,2,0,-2], "labelExpr": "datum.value % 4 === 0 ? datum.label : ''", "gridColor": {"condition": {"test": "datum.value % 4 === 0", "value": "#d0d0d0"}, "value": "#e8e8e8"}}},
   "y": {"field": "i", "type": "quantitative", "scale": {"domain": [0, 100], "nice": false, "zero": false}, "axis": {"title": "Intensity (a.u)", "titlePadding": 5, "values": [19.4,37.9,56.4,74.9,93.4]}}
  },
  "layer": [
   {"mark": {"type": "line", "color": "#444", "strokeWidth": 0.8}},
   {"mark": {"type": "point", "shape": "square", "filled": true, "size": 12, "color": "#000", "opacity": 1}},
   {"data": {"name": "dvbm"}, "mark": {"type": "line", "color": "#e07070", "strokeWidth": 2.6, "opacity": 0.6}},
   {"data": {"name": "dvbm"}, "mark": {"type": "line", "color": "#a01818", "strokeWidth": 1}},
   {"data": {"name": "td"}, "transform": [{"filter": "datum.s === 'vbm'"}], "mark": {"type": "text", "fontSize": 9.5, "fontWeight": "bold", "align": "left", "baseline": "middle"}, "encoding": {"text": {"field": "t"}}},
   {"data": {"name": "td"}, "transform": [{"filter": "datum.s === 'vb'"}], "mark": {"type": "text", "font": "Liberation Serif", "fontSize": 16, "fontWeight": "bold", "align": "left", "baseline": "alphabetic", "color": "#111"}, "encoding": {"text": {"field": "t"}}},
   {"data": {"name": "td"}, "transform": [{"filter": "datum.s === 'lab'"}], "mark": {"type": "text", "font": "Liberation Serif", "fontSize": 16, "align": "right", "baseline": "middle", "color": "#111"}, "encoding": {"text": {"field": "t"}}}
  ]
 },
 {
  "width": 201, "height": 160,
  "data": {"name": "f"},
  "encoding": {
   "x": {"field": "e", "type": "quantitative", "scale": {"domain": [382.5, 407.5], "nice": false, "zero": false}, "axis": {"title": "Binding Energy (eV)", "titlePadding": 1, "values": [382.5,385,387.5,390,392.5,395,397.5,400,402.5,405,407.5], "labelExpr": "datum.value % 5 === 0 ? datum.label : ''", "gridColor": {"condition": {"test": "datum.value % 5 === 0", "value": "#c6c6c6"}, "value": "#e8e8e8"}}},
   "y": {"field": "i", "type": "quantitative", "scale": {"domain": [0, 100], "nice": false, "zero": false}, "axis": {"title": "Intensity (a.u)", "titlePadding": 11, "values": [9.8,30.5,51,71.5,92]}}
  },
  "layer": [
   {"data": {"name": "ffit"}, "transform": [{"fold": ["F", "G1", "G2", "N"], "as": ["k", "i"]}],
    "mark": {"type": "line", "interpolate": "monotone"},
    "encoding": {
     "color": {"field": "k", "type": "nominal", "scale": {"domain": ["X", "F", "G1", "G2", "N"], "range": ["#5a4d4d", "#d09a9a", "#7aaaa2", "#8dbfa8", "#c9aab4"]},
      "legend": {"title": null, "orient": "none", "legendX": 129, "legendY": 21, "fillColor": "#ffffff", "strokeColor": "#8a8a8a", "padding": 3, "rowPadding": 1.5, "symbolSize": 100, "symbolOffset": 6, "labelOffset": 10, "labelFont": "Liberation Sans", "labelFontSize": 10, "labelColor": "#333",
       "labelExpr": "datum.label === 'X' ? 'Expt.' : datum.label === 'F' ? 'Fitted' : datum.label === 'N' ? 'N 1S' : 'Ga Auger'",
       "encode": {"symbols": {"update": {
        "shape": {"signal": "datum.value === 'X' ? 'M-2.2,0H2.2M-0.45,-0.45H0.45V0.45H-0.45Z' : 'M-2.2,0H2.2'"},
        "stroke": {"signal": "datum.value === 'X' ? '#5a4d4d' : datum.value === 'F' ? '#d09a9a' : datum.value === 'G1' ? '#7aaaa2' : datum.value === 'G2' ? '#8dbfa8' : '#c9aab4'"},
        "fill": {"signal": "datum.value === 'X' ? '#5a4d4d' : 'transparent'"},
        "strokeWidth": {"value": 1.2}, "opacity": {"value": 1}}}}}},
     "strokeWidth": {"condition": {"test": "datum.k === 'F'", "value": 1.2}, "value": 0.9}}},
   {"mark": {"type": "line", "color": "#6a5f5f", "strokeWidth": 0.8}},
   {"mark": {"type": "point", "shape": "square", "filled": true, "size": 20, "color": "#5a4d4d", "opacity": 1}},
   {"data": {"name": "farr"}, "mark": {"type": "line", "color": "#333", "strokeWidth": 0.8}, "encoding": {"detail": {"field": "a", "type": "nominal"}}},
   {"data": {"name": "farr"}, "transform": [{"filter": "datum.p === 1 && datum.a === 1"}], "mark": {"type": "point", "shape": "triangle-up", "filled": true, "size": 16, "angle": 117, "color": "#222", "opacity": 1}},
   {"data": {"name": "farr"}, "transform": [{"filter": "datum.p === 1 && datum.a === 2"}], "mark": {"type": "point", "shape": "triangle-up", "filled": true, "size": 16, "angle": 159, "color": "#222", "opacity": 1}},
   {"data": {"name": "tf"}, "transform": [{"filter": "datum.s === 'peak'"}], "mark": {"type": "text", "fontSize": 9.8, "fontWeight": "bold", "color": "#333"}, "encoding": {"text": {"field": "t"}}},
   {"data": {"name": "tf"}, "transform": [{"filter": "datum.s === 'aug'"}], "mark": {"type": "text", "fontSize": 9.8, "fontWeight": "bold"}, "encoding": {"text": {"field": "t"}}},
   {"data": {"name": "tf"}, "transform": [{"filter": "datum.s === 'big'"}], "mark": {"type": "text", "font": "Liberation Serif", "fontSize": 16, "fontWeight": "bold", "align": "left", "baseline": "alphabetic", "color": "#111"}, "encoding": {"text": {"field": "t"}}},
   {"data": {"name": "tf"}, "transform": [{"filter": "datum.s === 'sub'"}], "mark": {"type": "text", "font": "Liberation Serif", "fontSize": 11, "fontWeight": "bold", "align": "left", "baseline": "alphabetic", "dx": 12, "dy": 3, "color": "#111"}, "encoding": {"text": {"field": "t"}}},
   {"data": {"name": "tf"}, "transform": [{"filter": "datum.s === 'lab'"}], "mark": {"type": "text", "font": "Liberation Serif", "fontSize": 16, "align": "right", "baseline": "middle", "color": "#111"}, "encoding": {"text": {"field": "t"}}}
  ]
 }
]
}
